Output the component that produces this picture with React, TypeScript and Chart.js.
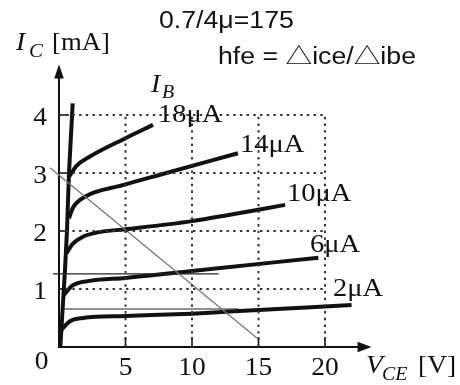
import React, { useEffect, useRef } from "react";
import { Chart, registerables } from "chart.js";

Chart.register(...registerables);

// ---- data (V_CE [V], I_C [mA]) ----
const curve2uA: [number, number][] = [[0.2, 0.3], [0.8, 0.44], [1.8, 0.5], [5, 0.535], [10, 0.575], [12.85, 0.61], [22, 0.725]];
const curve6uA: [number, number][] = [[0.3, 0.88], [1.0, 1.06], [2.3, 1.14], [5, 1.19], [10, 1.31], [19.5, 1.54]];
const curve10uA: [number, number][] = [[0.57, 1.62], [1.0, 1.77], [1.8, 1.9], [3, 1.98], [5, 2.03], [10, 2.17], [12.85, 2.28], [17, 2.45]];
const curve14uA: [number, number][] = [[0.75, 2.22], [1.05, 2.4], [1.95, 2.59], [4.8, 2.79], [7.6, 2.97], [13.45, 3.34]];
const curve18uA: [number, number][] = [[0.8, 2.95], [1.3, 3.12], [2.3, 3.28], [5, 3.6], [7.07, 3.83]];
const steepLine: [number, number][] = [[0.1, 0], [0.45, 1.33], [0.6, 2], [0.75, 3], [1.03, 4.2]];
const loadLine: [number, number][] = [[-0.68, 3.09], [14.9, 0.15]];
const thinLine1: [number, number][] = [[-0.45, 1.26], [12, 1.26]];
const thinLine2: [number, number][] = [[0.3, 0.655], [13.5, 0.655]];

const curveLabels = ["18μA", "14μA", "10μA", "6μA", "2μA"];
const xTicks = [5, 10, 15, 20];
const yTicks = [1, 2, 3, 4];
const gridXMax = 20;
const gridYMax = 4;
const xAxisMax = 23.5;
const yAxisMax = 4.87;

const SERIF = '"Liberation Serif", "Times New Roman", serif';
const SANS = '"Liberation Sans", Arial, "Noto Sans CJK SC", sans-serif';

const toPts = (a: [number, number][]) => a.map(([x, y]) => ({ x, y }));

function txt(ctx: CanvasRenderingContext2D, s: string, x: number, y: number, font: string, sx = 1, align: CanvasTextAlign = "left") {
  ctx.save();
  ctx.font = font;
  ctx.textAlign = align;
  ctx.textBaseline = "alphabetic";
  ctx.translate(x, y);
  ctx.scale(sx, 1);
  ctx.fillText(s, 0, 0);
  ctx.restore();
}

const overlay = {
  id: "overlay",
  beforeDatasetsDraw(chart: any) {
    const { ctx, scales } = chart;
    const X = (v: number) => scales.x.getPixelForValue(v);
    const Y = (v: number) => scales.y.getPixelForValue(v);
    ctx.save();
    ctx.strokeStyle = "#111";
    ctx.fillStyle = "#111";
    // axes
    ctx.lineWidth = 2;
    ctx.beginPath();
    ctx.moveTo(X(0), Y(0) + 1);
    ctx.lineTo(X(0), Y(yAxisMax) + 10);
    ctx.moveTo(X(0) - 1, Y(0));
    ctx.lineTo(X(xAxisMax) - 10, Y(0));
    ctx.stroke();
    // arrowheads
    ctx.beginPath();
    ctx.moveTo(X(0), Y(yAxisMax));
    ctx.lineTo(X(0) - 4.8, Y(yAxisMax) + 14);
    ctx.lineTo(X(0) + 4.8, Y(yAxisMax) + 14);
    ctx.closePath();
    ctx.fill();
    ctx.beginPath();
    ctx.moveTo(X(xAxisMax), Y(0));
    ctx.lineTo(X(xAxisMax) - 14, Y(0) - 5.2);
    ctx.lineTo(X(xAxisMax) - 14, Y(0) + 5.2);
    ctx.closePath();
    ctx.fill();
    // tick marks (inward)
    ctx.lineWidth = 1.6;
    ctx.beginPath();
    yTicks.forEach((t) => {
      ctx.moveTo(X(0), Y(t));
      ctx.lineTo(X(0) + 10, Y(t));
    });
    xTicks.forEach((t) => {
      ctx.moveTo(X(t), Y(0));
      ctx.lineTo(X(t), Y(0) - 10);
    });
    ctx.stroke();
    ctx.restore();
  },
  afterDraw(chart: any) {
    const { ctx, scales } = chart;
    const X = (v: number) => scales.x.getPixelForValue(v);
    const Y = (v: number) => scales.y.getPixelForValue(v);
    ctx.save();
    ctx.fillStyle = "#111";
    const f25 = `25px ${SERIF}`;
    const i25 = `italic 25px ${SERIF}`;
    const i19 = `italic 19px ${SERIF}`;
    // tick labels
    yTicks.forEach((t) => txt(ctx, String(t), X(0) - 19, Y(t) + 9.5, f25, 1.1, "center"));
    txt(ctx, "0", X(0) - 17.5, Y(0) + 22, f25, 1.1, "center");
    xTicks.forEach((t) => txt(ctx, String(t), X(t), Y(0) + 28, f25, 1.1, "center"));
    // axis titles
    txt(ctx, "I", 16, 50, i25, 1.1);
    txt(ctx, "C", 29, 57, i19, 1.1);
    txt(ctx, "[mA]", 52, 50, f25, 1.07);
    txt(ctx, "V", 366, 373, i25, 1.1);
    txt(ctx, "CE", 382, 380, i19, 1.05);
    txt(ctx, "[V]", 418, 373, f25, 1.1);
    txt(ctx, "I", 151, 92, i25, 1.1);
    txt(ctx, "B", 162, 98, i19, 1.05);
    // curve labels
    const pos: [number, number][] = [[158, 121.5], [240, 152.3], [287, 201], [310, 251.5], [333, 296]];
    curveLabels.forEach((s, i) => txt(ctx, s, pos[i][0], pos[i][1], f25, 1.14));
    // annotations
    const s23 = `23px ${SANS}`;
    txt(ctx, "0.7/4μ=175", 159, 28.3, s23, 1.16);
    txt(ctx, "hfe = △ice/△ibe", 218, 63.5, s23, 1.16);
    ctx.restore();
  },
};

export default function App() {
  const ref = useRef<HTMLCanvasElement | null>(null);
  useEffect(() => {
    document.body.style.margin = "0";
    const canvas = ref.current!;
    const thick = (d: [number, number][], mono = true) => ({
      data: toPts(d),
      borderColor: "#111",
      borderWidth: 4,
      pointRadius: 0,
      fill: false,
      clip: false as any,
      cubicInterpolationMode: mono ? ("monotone" as const) : ("default" as const),
      tension: mono ? 0.4 : 0,
    });
    const thin = (d: [number, number][], color: string, w: number) => ({
      data: toPts(d),
      borderColor: color,
      borderWidth: w,
      pointRadius: 0,
      fill: false,
      clip: false as any,
      tension: 0,
    });
    const dotted = (d: [number, number][]) => ({
      data: toPts(d),
      borderColor: "#333",
      borderWidth: 2,
      borderDash: [2.4, 4.3],
      pointRadius: 0,
      fill: false,
      clip: false as any,
      tension: 0,
    });
    const gridSets = [
      ...yTicks.map((t) => dotted([[0, t], [gridXMax, t]])),
      ...xTicks.map((t) => dotted([[t, 0], [t, gridYMax]])),
    ];
    const chart = new Chart(canvas, {
      type: "line",
      data: {
        datasets: [
          ...gridSets,
          thin(loadLine, "#777", 1.3),
          thin(thinLine1, "#222", 1.1),
          thin(thinLine2, "#222", 1.1),
          thick(steepLine, false),
          thick(curve2uA),
          thick(curve6uA),
          thick(curve10uA),
          thick(curve14uA),
          thick(curve18uA),
        ] as any,
      },
      options: {
        animation: false,
        responsive: false,
        events: [],
        layout: { padding: { left: 59, top: 347 - yAxisMax * 58, right: 460 - 59 - xAxisMax * 13.3, bottom: 38 } },
        plugins: { legend: { display: false }, tooltip: { enabled: false } },
        scales: {
          x: { type: "linear", display: false, min: 0, max: xAxisMax },
          y: { type: "linear", display: false, min: 0, max: yAxisMax },
        },
      },
      plugins: [overlay],
    });
    return () => chart.destroy();
  }, []);
  return <canvas ref={ref} width={460} height={385} style={{ display: "block" }} />;
}
